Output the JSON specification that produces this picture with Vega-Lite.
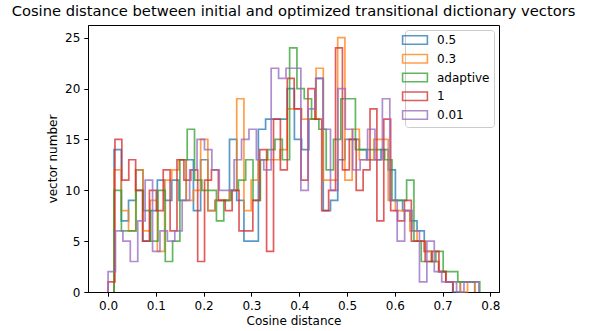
{
  "$schema": "https://vega.github.io/schema/vega-lite/v6.json",
  "width": 411,
  "height": 267,
  "autosize": "none",
  "padding": {"left": 88, "top": 25, "right": 91, "bottom": 39},
  "title": {"text": "Cosine distance between initial and optimized transitional dictionary vectors", "fontSize": 14.7, "fontWeight": "normal", "color": "#000", "offset": 6, "anchor": "middle"},
  "config": {
    "font": "DejaVu Sans",
    "view": {"stroke": "#000", "strokeWidth": 1},
    "axis": {"domainColor": "#000", "domainWidth": 1, "tickColor": "#000", "tickSize": 4.2, "tickWidth": 1, "labelFontSize": 12, "labelColor": "#000", "titleFontSize": 12, "titleFontWeight": "normal", "titleColor": "#000", "grid": false, "labelPadding": 4},
    "axisX": {"titlePadding": 4},
    "axisY": {"titlePadding": 5},
    "legend": {"orient": "top-right", "offset": 5, "fillColor": "#ffffff", "strokeColor": "#cccccc", "cornerRadius": 3, "padding": 4, "labelFontSize": 12, "labelColor": "#000", "symbolType": "M-3.1,-1.05H3.1V1.05H-3.1Z", "symbolSize": 64, "symbolStrokeWidth": 1.6, "symbolOpacity": 0.75, "symbolFillColor": "transparent", "labelOffset": 16, "rowPadding": 2.75}
  },
  "datasets": {
    "blue": [{"x":0.0126,"y":0},{"x":0.0126,"y":14},{"x":0.0277,"y":7},{"x":0.0428,"y":9},{"x":0.0579,"y":12},{"x":0.073,"y":5},{"x":0.0881,"y":8},{"x":0.1031,"y":11},{"x":0.1182,"y":9},{"x":0.1333,"y":11},{"x":0.1484,"y":9},{"x":0.1635,"y":13},{"x":0.1786,"y":8},{"x":0.1937,"y":13},{"x":0.2088,"y":8},{"x":0.2239,"y":9},{"x":0.239,"y":9},{"x":0.2541,"y":15},{"x":0.2692,"y":9},{"x":0.2843,"y":5},{"x":0.2994,"y":5},{"x":0.3145,"y":16},{"x":0.3296,"y":17},{"x":0.3446,"y":17},{"x":0.3597,"y":17},{"x":0.3748,"y":20},{"x":0.3899,"y":15},{"x":0.405,"y":14},{"x":0.4201,"y":17},{"x":0.4352,"y":21},{"x":0.4503,"y":8},{"x":0.4654,"y":9},{"x":0.4805,"y":13},{"x":0.4956,"y":15},{"x":0.5107,"y":15},{"x":0.5258,"y":14},{"x":0.5409,"y":13},{"x":0.556,"y":13},{"x":0.5711,"y":14},{"x":0.5862,"y":12},{"x":0.6012,"y":9},{"x":0.6163,"y":8},{"x":0.6314,"y":7},{"x":0.6465,"y":6},{"x":0.6616,"y":4},{"x":0.6767,"y":3},{"x":0.6918,"y":2},{"x":0.7069,"y":1},{"x":0.722,"y":0},{"x":0.7371,"y":1},{"x":0.7522,"y":1},{"x":0.7673,"y":0}],
    "orange": [{"x":0.0126,"y":0},{"x":0.0126,"y":12},{"x":0.0277,"y":8},{"x":0.0428,"y":6},{"x":0.0579,"y":12},{"x":0.073,"y":6},{"x":0.0881,"y":9},{"x":0.1031,"y":4},{"x":0.1182,"y":11},{"x":0.1333,"y":12},{"x":0.1484,"y":13},{"x":0.1635,"y":9},{"x":0.1786,"y":10},{"x":0.1937,"y":15},{"x":0.2088,"y":8},{"x":0.2239,"y":9},{"x":0.239,"y":9},{"x":0.2541,"y":10},{"x":0.2692,"y":19},{"x":0.2843,"y":8},{"x":0.2994,"y":11},{"x":0.3145,"y":13},{"x":0.3296,"y":13},{"x":0.3446,"y":13},{"x":0.3597,"y":14},{"x":0.3748,"y":18},{"x":0.3899,"y":18},{"x":0.405,"y":17},{"x":0.4201,"y":17},{"x":0.4352,"y":22},{"x":0.4503,"y":11},{"x":0.4654,"y":11},{"x":0.4805,"y":25},{"x":0.4956,"y":11},{"x":0.5107,"y":16},{"x":0.5258,"y":13},{"x":0.5409,"y":13},{"x":0.556,"y":15},{"x":0.5711,"y":15},{"x":0.5862,"y":9},{"x":0.6012,"y":8},{"x":0.6163,"y":8},{"x":0.6314,"y":6},{"x":0.6465,"y":5},{"x":0.6616,"y":4},{"x":0.6767,"y":3},{"x":0.6918,"y":2},{"x":0.7069,"y":1},{"x":0.722,"y":1},{"x":0.7371,"y":0},{"x":0.7522,"y":1},{"x":0.7673,"y":0}],
    "green": [{"x":0.0126,"y":0},{"x":0.0126,"y":10},{"x":0.0279,"y":6},{"x":0.0432,"y":6},{"x":0.0585,"y":10},{"x":0.0738,"y":8},{"x":0.0891,"y":5},{"x":0.1044,"y":10},{"x":0.1197,"y":3},{"x":0.135,"y":5},{"x":0.1503,"y":13},{"x":0.1656,"y":16},{"x":0.1809,"y":11},{"x":0.1962,"y":10},{"x":0.2115,"y":10},{"x":0.2268,"y":7},{"x":0.2421,"y":9},{"x":0.2574,"y":10},{"x":0.2727,"y":11},{"x":0.288,"y":13},{"x":0.3033,"y":9},{"x":0.3187,"y":13},{"x":0.334,"y":14},{"x":0.3493,"y":15},{"x":0.3646,"y":13},{"x":0.3799,"y":24},{"x":0.3952,"y":20},{"x":0.4105,"y":19},{"x":0.4258,"y":17},{"x":0.4411,"y":16},{"x":0.4564,"y":12},{"x":0.4717,"y":15},{"x":0.487,"y":19},{"x":0.5023,"y":19},{"x":0.5176,"y":14},{"x":0.5329,"y":14},{"x":0.5482,"y":14},{"x":0.5635,"y":14},{"x":0.5788,"y":13},{"x":0.5941,"y":9},{"x":0.6094,"y":9},{"x":0.6247,"y":11},{"x":0.64,"y":5},{"x":0.6553,"y":3},{"x":0.6706,"y":3},{"x":0.6859,"y":4},{"x":0.7012,"y":2},{"x":0.7165,"y":2},{"x":0.7318,"y":1},{"x":0.7472,"y":1},{"x":0.7625,"y":1},{"x":0.7778,"y":0}],
    "red": [{"x":0,"y":0},{"x":0,"y":1},{"x":0.0144,"y":15},{"x":0.0288,"y":11},{"x":0.0433,"y":13},{"x":0.0577,"y":10},{"x":0.0721,"y":5},{"x":0.0865,"y":10},{"x":0.101,"y":8},{"x":0.1154,"y":12},{"x":0.1298,"y":6},{"x":0.1442,"y":13},{"x":0.1587,"y":11},{"x":0.1731,"y":12},{"x":0.1875,"y":3},{"x":0.2019,"y":11},{"x":0.2163,"y":12},{"x":0.2308,"y":9},{"x":0.2452,"y":8},{"x":0.2596,"y":10},{"x":0.274,"y":6},{"x":0.2885,"y":6},{"x":0.3029,"y":9},{"x":0.3173,"y":14},{"x":0.3317,"y":4},{"x":0.3462,"y":17},{"x":0.3606,"y":12},{"x":0.375,"y":21},{"x":0.3894,"y":18},{"x":0.4038,"y":11},{"x":0.4183,"y":20},{"x":0.4327,"y":17},{"x":0.4471,"y":8},{"x":0.4615,"y":10},{"x":0.476,"y":24},{"x":0.4904,"y":12},{"x":0.5048,"y":15},{"x":0.5192,"y":10},{"x":0.5337,"y":12},{"x":0.5481,"y":18},{"x":0.5625,"y":7},{"x":0.5769,"y":17},{"x":0.5913,"y":8},{"x":0.6058,"y":7},{"x":0.6202,"y":9},{"x":0.6346,"y":5},{"x":0.649,"y":5},{"x":0.6635,"y":3},{"x":0.6779,"y":4},{"x":0.6923,"y":2},{"x":0.7067,"y":1},{"x":0.7212,"y":0}],
    "purple": [{"x":0,"y":0},{"x":0,"y":2},{"x":0.0155,"y":6},{"x":0.031,"y":5},{"x":0.0465,"y":3},{"x":0.0621,"y":7},{"x":0.0776,"y":11},{"x":0.0931,"y":4},{"x":0.1086,"y":6},{"x":0.1241,"y":5},{"x":0.1396,"y":6},{"x":0.1551,"y":9},{"x":0.1707,"y":12},{"x":0.1862,"y":15},{"x":0.2017,"y":14},{"x":0.2172,"y":12},{"x":0.2327,"y":10},{"x":0.2482,"y":10},{"x":0.2637,"y":13},{"x":0.2793,"y":15},{"x":0.2948,"y":16},{"x":0.3103,"y":13},{"x":0.3258,"y":12},{"x":0.3413,"y":22},{"x":0.3568,"y":21},{"x":0.3723,"y":22},{"x":0.3879,"y":22},{"x":0.4034,"y":10},{"x":0.4189,"y":18},{"x":0.4344,"y":21},{"x":0.4499,"y":16},{"x":0.4654,"y":10},{"x":0.4809,"y":20},{"x":0.4964,"y":16},{"x":0.512,"y":12},{"x":0.5275,"y":13},{"x":0.543,"y":16},{"x":0.5585,"y":13},{"x":0.574,"y":19},{"x":0.5895,"y":9},{"x":0.605,"y":5},{"x":0.6206,"y":8},{"x":0.6361,"y":6},{"x":0.6516,"y":1},{"x":0.6671,"y":5},{"x":0.6826,"y":2},{"x":0.6981,"y":1},{"x":0.7136,"y":1},{"x":0.7292,"y":0},{"x":0.7447,"y":1},{"x":0.7602,"y":1},{"x":0.7757,"y":0}]
  },
  "encoding": {
    "x": {"field": "x", "type": "quantitative", "scale": {"domain": [-0.042, 0.818], "nice": false, "zero": false}, "axis": {"values": [0, 0.1, 0.2, 0.3, 0.4, 0.5, 0.6, 0.7, 0.8], "format": ".1f", "title": "Cosine distance"}},
    "y": {"field": "y", "type": "quantitative", "scale": {"domain": [0, 26.25], "nice": false}, "axis": {"values": [0, 5, 10, 15, 20, 25], "title": "vector number"}},
    "order": {"value": null}
  },
  "layer": [
    {"data": {"name": "blue"}, "mark": {"type": "line", "interpolate": "step-after", "strokeWidth": 1.7, "opacity": 0.75}, "encoding": {"color": {"datum": "0.5", "type": "nominal", "scale": {"domain": ["0.5", "0.3", "adaptive", "1", "0.01"], "range": ["#1f77b4", "#ff7f0e", "#2ca02c", "#d62728", "#9467bd"]}, "legend": {"title": null}}}},
    {"data": {"name": "orange"}, "mark": {"type": "line", "interpolate": "step-after", "strokeWidth": 1.7, "opacity": 0.75}, "encoding": {"color": {"datum": "0.3", "type": "nominal"}}},
    {"data": {"name": "green"}, "mark": {"type": "line", "interpolate": "step-after", "strokeWidth": 1.7, "opacity": 0.75}, "encoding": {"color": {"datum": "adaptive", "type": "nominal"}}},
    {"data": {"name": "red"}, "mark": {"type": "line", "interpolate": "step-after", "strokeWidth": 1.7, "opacity": 0.75}, "encoding": {"color": {"datum": "1", "type": "nominal"}}},
    {"data": {"name": "purple"}, "mark": {"type": "line", "interpolate": "step-after", "strokeWidth": 1.7, "opacity": 0.75}, "encoding": {"color": {"datum": "0.01", "type": "nominal"}}}
  ]
}
